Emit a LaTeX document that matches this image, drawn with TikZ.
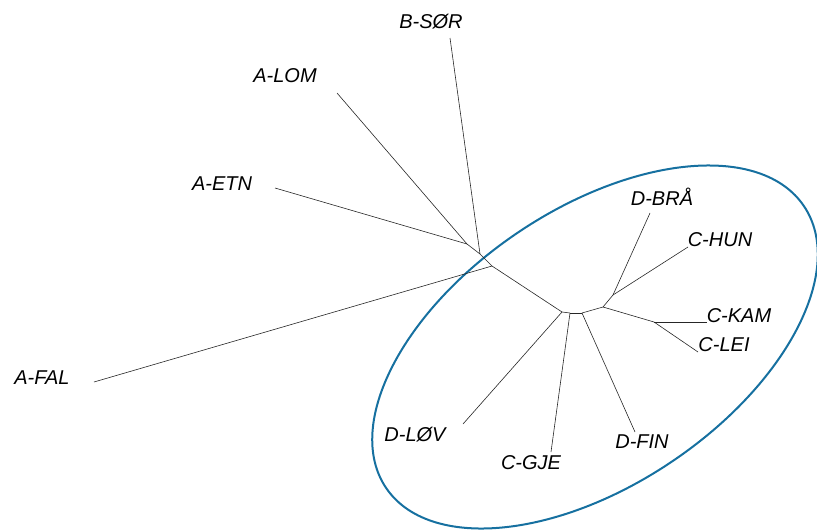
\documentclass[tikz,border=0pt]{standalone}
\usepackage{fontspec}
\setmainfont{Liberation Sans}
\usepackage{tikz}
\definecolor{ringblue}{RGB}{22,112,160}

\begin{document}
\begin{tikzpicture}[x=1pt,y=-1pt,taxon/.style={font=\fontsize{20}{24}\selectfont\itshape,inner sep=0pt},branch/.style={line width=0.6pt,black!85},ring/.style={draw=ringblue,line width=2pt}]
    \useasboundingbox (0,0) rectangle (817,530);
    %ring
    \draw[ring,rotate around={34:(595,347)}] (595,347) ellipse [x radius=252pt,y radius=138pt];
    %labels
    \node[taxon] (sor) at (431,22) {B-SØR};
    \node[taxon] (lom) at (285,76) {A-LOM};
    \node[taxon] (etn) at (222,184) {A-ETN};
    \node[taxon] (fal) at (42,378) {A-FAL};
    \node[taxon] (bra) at (662,197) {D-BRÅ};
    \node[taxon] (hun) at (720,240) {C-HUN};
    \node[taxon] (kam) at (739,316) {C-KAM};
    \node[taxon] (lei) at (724,345) {C-LEI};
    \node[taxon] (lov) at (415,435) {D-LØV};
    \node[taxon] (gje) at (531,463) {C-GJE};
    \node[taxon] (fin) at (642,442) {D-FIN};
    %tips
    \coordinate (t-sor) at (450,38);
    \coordinate (t-lom) at (337,93);
    \coordinate (t-etn) at (275,188);
    \coordinate (t-fal) at (94,382);
    \coordinate (t-bra) at (650,213);
    \coordinate (t-hun) at (688,247);
    \coordinate (t-kam) at (707,322);
    \coordinate (t-lei) at (698,352);
    \coordinate (t-lov) at (463,424);
    \coordinate (t-gje) at (551,452);
    \coordinate (t-fin) at (635,432);
    %inner nodes
    \coordinate (j1) at (467,244);
    \coordinate (j2) at (480,254);
    \coordinate (j3) at (492,266);
    \coordinate (j4) at (562,312);
    \coordinate (j5) at (570,313);
    \coordinate (j6) at (582,313);
    \coordinate (j7) at (603,307);
    \coordinate (j8) at (613,295);
    \coordinate (j9) at (654,322);
    \draw[branch] (t-lom) edge (j1) ;
    \draw[branch] (t-etn) edge (j1) ;
    \draw[branch] (j1) edge (j2) ;
    \draw[branch] (t-sor) edge (j2) ;
    \draw[branch] (j2) edge (j3) ;
    \draw[branch] (t-fal) edge (j3) ;
    \draw[branch] (j3) edge (j4) ;
    \draw[branch] (t-lov) edge (j4) ;
    \draw[branch] (j4) edge (j5) ;
    \draw[branch] (t-gje) edge (j5) ;
    \draw[branch] (j5) edge (j6) ;
    \draw[branch] (t-fin) edge (j6) ;
    \draw[branch] (j6) edge (j7) ;
    \draw[branch] (j7) edge (j8) ;
    \draw[branch] (t-bra) edge (j8) ;
    \draw[branch] (t-hun) edge (j8) ;
    \draw[branch] (j7) edge (j9) ;
    \draw[branch] (t-kam) edge (j9) ;
    \draw[branch] (t-lei) edge (j9) ;
\end{tikzpicture}
\end{document}
